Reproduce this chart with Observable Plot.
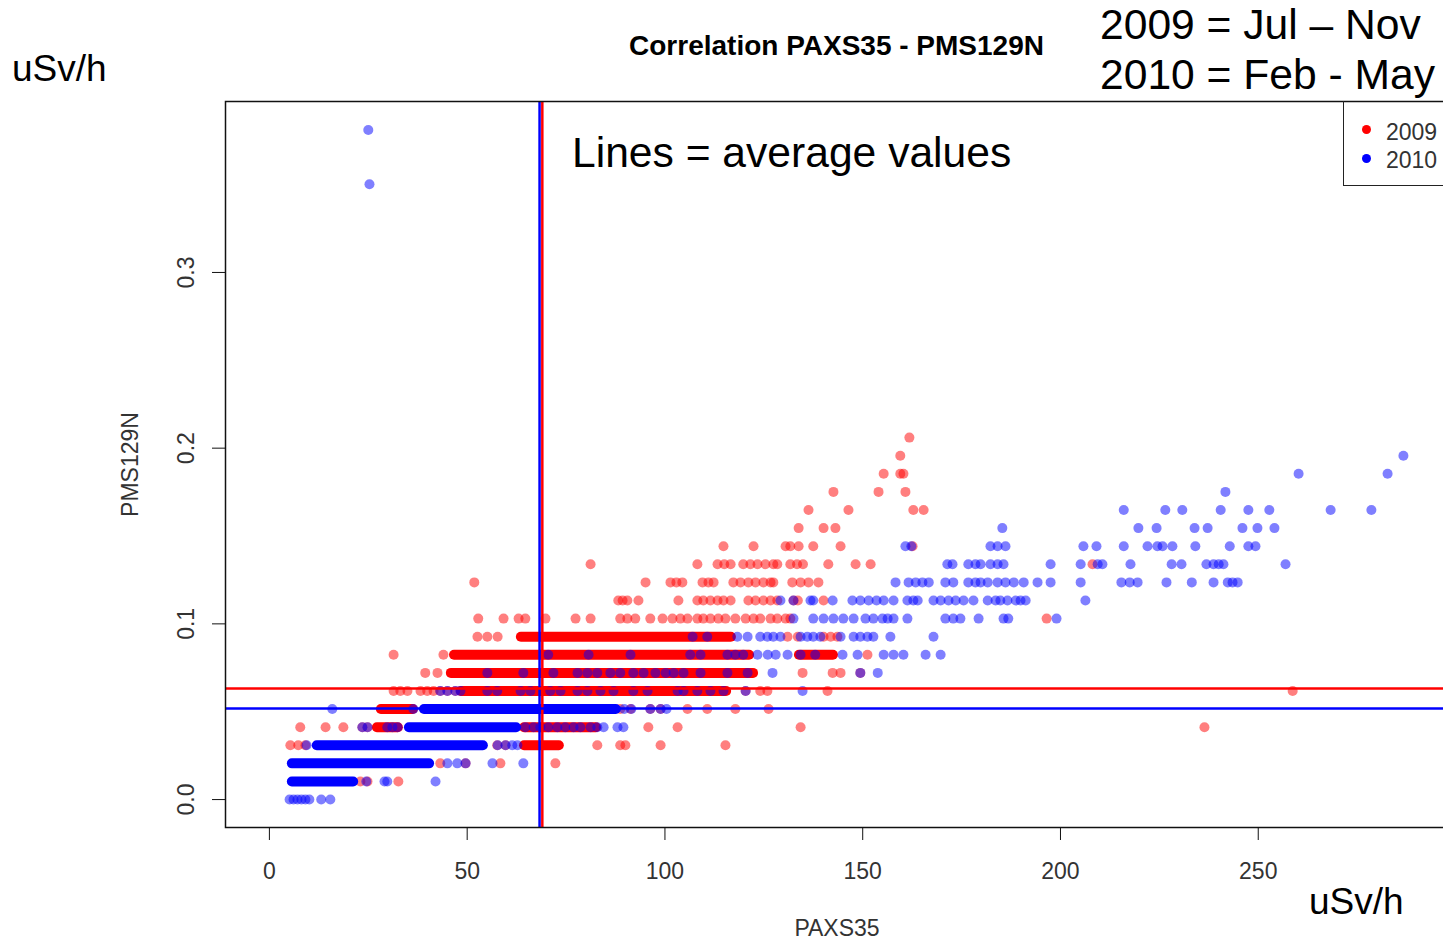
<!DOCTYPE html>
<html><head><meta charset="utf-8">
<script src="https://cdn.jsdelivr.net/npm/d3@7"></script>
<script src="https://cdn.jsdelivr.net/npm/@observablehq/plot@0.6"></script>
<style>
body{margin:0;background:#fff;font-family:"Liberation Sans",Arial,sans-serif;}
#wrap{position:relative;width:1443px;height:943px;overflow:hidden;background:#fff;}
#wrap svg{position:absolute;left:0;top:0;max-width:none !important;width:1448px !important;height:943px !important;}
.t{position:absolute;white-space:nowrap;color:#000;line-height:1;}
#legend{position:absolute;left:1343px;top:101px;width:120px;height:84px;border-left:1.3px solid #222;border-bottom:1.3px solid #222;}
.ld{position:absolute;width:9px;height:9px;border-radius:50%;}
.lt{position:absolute;font-size:23px;color:#333;line-height:1;}
</style></head><body><div id="wrap"></div>
<script>
// ---- data ----
// dense runs of overlapping points: [PMS129N, PAXS35 from, PAXS35 to]
const runs2009 = [
  [0.0309, 64.5, 73.3],
  [0.0412, 27.3, 32.6],
  [0.0412, 64.5, 82.7],
  [0.0515, 28.3, 36.4],
  [0.0618, 48.5, 115.6],
  [0.0721, 46.0, 122.4],
  [0.0824, 46.8, 121.4],
  [0.0824, 134.0, 142.6],
  [0.0927, 63.7, 116.8]
];
const runs2010 = [
  [0.0103, 5.8, 21.3],
  [0.0206, 5.8, 40.5],
  [0.0309, 12.1, 54.1],
  [0.0412, 35.4, 62.5],
  [0.0515, 39.2, 87.7]
];
// single points: [PMS129N, [PAXS35 values]]
const pts2009 = [
  [0.0103, [23.0, 24.8, 32.6]],
  [0.0206, [43.2, 49.6, 58.4, 72.3]],
  [0.0309, [5.3, 7.3, 9.1, 57.6, 59.7, 82.9, 88.7, 90.0, 98.9, 115.3]],
  [0.0412, [7.8, 14.2, 18.7, 23.5, 24.8, 95.8, 103.2, 134.3, 236.4]],
  [0.0515, [83.7, 86.2, 88.7, 91.3, 96.3, 98.9, 105.7, 110.7, 117.8, 126.2]],
  [0.0618, [31.4, 33.1, 34.9, 38.2, 39.9, 41.5, 43.2, 45.0, 47.0, 120.4, 124.1, 125.9, 141.1, 258.7]],
  [0.0721, [39.4, 42.5, 134.8, 142.4, 144.4, 149.4]],
  [0.0824, [31.4, 44.0, 151.2]],
  [0.0927, [52.6, 55.1, 57.7, 131.0, 133.6, 140.1, 141.9, 143.6]],
  [0.103, [52.8, 59.2, 63.0, 64.7, 69.8, 77.4, 81.2, 88.7, 90.5, 92.5, 96.3, 99.4, 101.9, 103.9, 105.7, 108.2, 109.7, 111.5, 113.5, 115.3, 117.8, 120.4, 122.4, 124.1, 126.7, 128.4, 130.5, 131.7, 196.5]],
  [0.1133, [88.2, 89.3, 90.5, 93.3, 103.4, 108.2, 109.7, 111.5, 113.3, 114.8, 116.6, 121.1, 122.9, 124.9, 126.7, 128.4, 132.5, 133.6, 140.1]],
  [0.1236, [51.8, 95.1, 101.4, 102.9, 104.4, 109.5, 111.0, 112.3, 117.3, 119.1, 121.1, 122.9, 124.9, 126.7, 127.4, 132.2, 134.3, 136.3, 138.8]],
  [0.1339, [81.2, 108.2, 113.3, 115.0, 116.6, 119.8, 121.6, 123.4, 125.4, 127.4, 128.4, 131.7, 133.4, 134.9, 141.3, 148.2, 152.0, 208.1]],
  [0.1442, [114.8, 122.4, 130.5, 131.7, 133.8, 137.5, 144.4, 162.6]],
  [0.1545, [133.8, 140.1, 143.1]],
  [0.1648, [136.3, 146.4, 162.8, 165.4]],
  [0.1751, [142.6, 154.0, 160.8]],
  [0.1854, [155.3, 159.5, 160.3]],
  [0.1957, [159.5]],
  [0.206, [161.8]]
];
const pts2010 = [
  [0, [5.1, 6.1, 7.1, 8.1, 9.1, 10.1, 13.1, 15.4]],
  [0.0103, [24.5, 29.1, 29.8, 42.0]],
  [0.0206, [45.0, 47.5, 49.6, 56.4, 64.2]],
  [0.0309, [9.4, 57.7, 59.7, 61.4, 62.7]],
  [0.0412, [23.5, 24.8, 29.8, 31.1, 32.4, 64.7, 66.8, 68.5, 70.5, 72.8, 74.8, 76.9, 78.6, 81.2, 82.9, 84.5, 88.0, 89.5]],
  [0.0515, [15.9, 36.4, 89.7, 91.5, 96.3, 98.9, 100.4]],
  [0.0618, [43.2, 45.0, 47.0, 48.3, 55.1, 57.6, 63.5, 66.0, 71.0, 73.6, 77.9, 80.4, 83.7, 87.0, 92.0, 95.6, 103.2, 104.7, 108.2, 111.5, 114.8, 120.4, 134.8]],
  [0.0721, [55.1, 64.2, 71.8, 77.9, 80.4, 82.9, 86.2, 88.7, 92.0, 94.6, 97.6, 100.2, 102.2, 104.7, 109.0, 115.8, 120.9, 127.2, 149.4, 153.8]],
  [0.0824, [70.5, 80.7, 91.3, 106.4, 109.0, 115.8, 117.8, 119.8, 123.4, 126.0, 128.0, 131.0, 134.3, 138.0, 144.9, 148.7, 155.3, 157.8, 160.3, 165.9, 169.7]],
  [0.0927, [107.0, 110.7, 118.3, 120.9, 124.1, 125.9, 127.4, 129.2, 134.3, 136.0, 137.5, 139.3, 144.4, 147.7, 149.4, 151.2, 152.7, 157.0, 167.9]],
  [0.103, [132.5, 137.5, 140.1, 142.6, 145.1, 147.7, 150.7, 152.7, 155.0, 156.3, 157.8, 161.3, 170.9, 172.9, 174.7, 179.3, 185.6, 186.8, 199.0]],
  [0.1133, [129.2, 132.5, 136.8, 137.5, 142.4, 147.4, 149.4, 151.5, 153.5, 155.3, 157.8, 161.3, 162.8, 163.9, 167.9, 169.7, 171.7, 173.5, 175.5, 178.0, 181.6, 183.6, 184.8, 186.6, 188.7, 189.9, 191.2, 206.3]],
  [0.1236, [158.3, 161.6, 163.4, 165.1, 166.7, 170.9, 172.9, 176.7, 178.5, 179.8, 181.6, 184.1, 186.1, 188.2, 190.7, 194.2, 197.5, 205.1, 215.4, 217.5, 219.5, 226.8, 233.2, 238.7, 242.3, 243.5, 244.8]],
  [0.1339, [171.4, 172.7, 176.7, 178.5, 179.8, 182.3, 184.1, 185.6, 197.5, 205.1, 209.4, 210.6, 217.7, 228.1, 230.6, 236.9, 238.7, 240.0, 241.2, 256.9]],
  [0.1442, [160.8, 162.3, 182.3, 184.1, 186.1, 205.8, 209.1, 216.0, 222.0, 224.5, 225.8, 228.3, 234.1, 242.8, 247.5, 249.3]],
  [0.1545, [185.3, 219.7, 224.3, 233.9, 237.2, 246.0, 249.8, 254.1]],
  [0.1648, [216.0, 226.5, 230.8, 240.5, 247.5, 252.8, 268.3, 278.6]],
  [0.1751, [241.7]],
  [0.1854, [260.2, 282.7]],
  [0.1957, [286.7]],
  [0.3502, [25.3]],
  [0.3811, [25.0]]
];
const years = ["2009", "2010"];
const yearColors = ["#ff0000", "#0000ff"];
const meanPAXS35 = [69.0, 68.3];
const meanPMS129N = [0.0632, 0.0518];
const xTicks = [0, 50, 100, 150, 200, 250];
const yTicks = [0, 0.1, 0.2, 0.3];

// ---- build tables ----
const toRuns = (runs) => runs.map(([y, x1, x2]) => ({y, x1, x2}));
const toPts = (rows) => rows.flatMap(([y, xs]) => xs.map(x => ({x, y})));
const means = years.map((yr, i) => ({year: yr, color: yearColors[i], x: meanPAXS35[i], y: meanPMS129N[i]}));

const chart = Plot.plot({
  width: 1448, height: 943,
  marginLeft: 225, marginRight: 0, marginTop: 101, marginBottom: 116,
  x: {domain: [-11.1, 298.1]},
  y: {domain: [-0.0159, 0.3973]},
  style: {fontFamily: "'Liberation Sans', Arial, sans-serif", fontSize: "23px", color: "#333", background: "white", overflow: "visible"},
  marks: [
    Plot.ruleY(toRuns(runs2009), {y: "y", x1: "x1", x2: "x2", stroke: yearColors[0], strokeWidth: 10, strokeLinecap: "round"}),
    Plot.dot(toPts(pts2009), {x: "x", y: "y", r: 5, fill: yearColors[0], fillOpacity: 0.5, stroke: null}),
    Plot.ruleY(toRuns(runs2010), {y: "y", x1: "x1", x2: "x2", stroke: yearColors[1], strokeWidth: 10, strokeLinecap: "round"}),
    Plot.dot(toPts(pts2010), {x: "x", y: "y", r: 5, fill: yearColors[1], fillOpacity: 0.5, stroke: null}),
    Plot.ruleX(means, {x: "x", stroke: "color", strokeWidth: 2.5}),
    Plot.ruleY(means, {y: "y", stroke: "color", strokeWidth: 2.5}),
    Plot.frame({stroke: "#111", strokeWidth: 1.5}),
    Plot.axisX({ticks: xTicks, tickSize: 13, tickPadding: 22, label: null, stroke: "#111", fill: "#333"}),
    Plot.axisY({ticks: yTicks, tickSize: 13, tickFormat: () => "", label: null, stroke: "#111"}),
    Plot.text(yTicks, {y: d => d, text: d => d3.format(".1f")(d), frameAnchor: "left", dx: -39, rotate: -90, textAnchor: "middle", lineAnchor: "middle", fill: "#333"}),
    Plot.text(["PAXS35"], {frameAnchor: "bottom", dy: 101, textAnchor: "middle", lineAnchor: "middle", fill: "#333"}),
    Plot.text(["PMS129N"], {frameAnchor: "left", dx: -95, rotate: -90, textAnchor: "middle", lineAnchor: "middle", fill: "#333"})
  ]
});
const wrap = document.getElementById("wrap");
wrap.appendChild(chart);

function addText(txt, left, top, size, extra) {
  const d = document.createElement("div");
  d.className = "t";
  d.textContent = txt;
  d.style.left = left + "px";
  d.style.top = top + "px";
  d.style.fontSize = size + "px";
  if (extra) Object.assign(d.style, extra);
  wrap.appendChild(d);
  return d;
}
addText("uSv/h", 12, 50, 37);
addText("Correlation PAXS35 - PMS129N", 836.5, 32, 28, {fontWeight: "bold", transform: "translateX(-50%)"});
addText("2009 = Jul – Nov", 1100, 3, 42.6);
addText("2010 = Feb - May", 1100, 53, 42.6);
addText("Lines = average values", 572, 131, 42.6);
addText("uSv/h", 1309, 883, 37);

const lg = document.createElement("div");
lg.id = "legend";
wrap.appendChild(lg);
years.forEach((yr, i) => {
  const dot = document.createElement("div");
  dot.className = "ld";
  dot.style.background = yearColors[i];
  dot.style.left = (1365 - 4.5 - 1343) + "px";
  dot.style.top = (129.5 + i * 29 - 4.5 - 101) + "px";
  lg.appendChild(dot);
  const t = document.createElement("div");
  t.className = "lt";
  t.textContent = yr;
  t.style.left = (1385 - 1343) + "px";
  t.style.top = (121 + i * 28 - 101) + "px";
  lg.appendChild(t);
});
</script></body></html>
